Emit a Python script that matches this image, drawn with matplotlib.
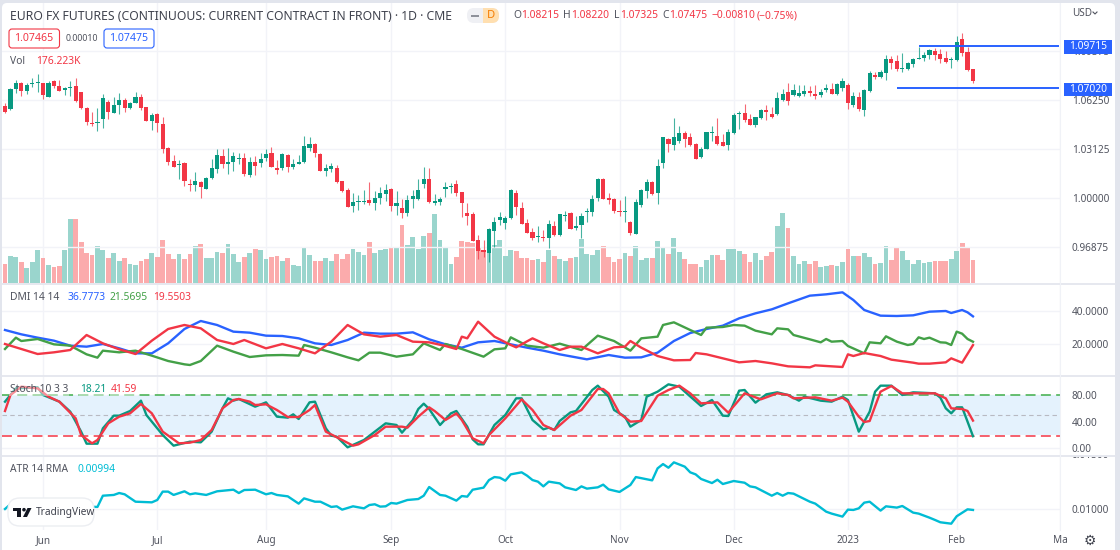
import matplotlib
matplotlib.use("Agg")
import matplotlib.pyplot as plt
from matplotlib.patches import FancyBboxPatch, Rectangle, Circle, Polygon
from matplotlib.transforms import Bbox, TransformedBbox

plt.rcParams["font.family"] = ["Noto Sans", "DejaVu Sans"]

# candles
opens = [
    1.0590, 1.0566, 1.0694, 1.0736, 1.0683, 1.0728, 1.0734, 1.0732, 1.0647, 1.0745,
    1.0715, 1.0689, 1.0700, 1.0715, 1.0675, 1.0577, 1.0479, 1.0479, 1.0505, 1.0613,
    1.0545, 1.0594, 1.0626, 1.0577, 1.0609, 1.0643, 1.0581, 1.0494, 1.0534, 1.0475,
    1.0319, 1.0234, 1.0209, 1.0226, 1.0090, 1.0081, 1.0105, 1.0060, 1.0128, 1.0188,
    1.0268, 1.0217, 1.0228, 1.0251, 1.0256, 1.0147, 1.0230, 1.0222, 1.0254, 1.0285,
    1.0194, 1.0189, 1.0274, 1.0198, 1.0217, 1.0230, 1.0317, 1.0347, 1.0279, 1.0174,
    1.0185, 1.0194, 1.0106, 1.0053, 0.9949, 0.9974, 0.9977, 0.9985, 0.9966, 1.0002,
    1.0023, 1.0059, 0.9951, 0.9934, 0.9902, 0.9994, 0.9992, 1.0087, 1.0121, 0.9966,
    0.9977, 1.0059, 1.0070, 1.0089, 1.0036, 0.9902, 0.9898, 0.9734, 0.9666, 0.9649,
    0.9789, 0.9857, 0.9843, 0.9872, 1.0032, 0.9934, 0.9838, 0.9781, 0.9749, 0.9751,
    0.9747, 0.9823, 0.9764, 0.9883, 0.9903, 0.9811, 0.9826, 0.9909, 0.9911, 1.0003,
    1.0124, 1.0000, 0.9996, 0.9917, 0.9909, 0.9845, 0.9773, 0.9956, 1.0045, 1.0103,
    1.0034, 1.0222, 1.0377, 1.0341, 1.0362, 1.0413, 1.0388, 1.0345, 1.0260, 1.0315,
    1.0413, 1.0394, 1.0356, 1.0339, 1.0415, 1.0534, 1.0543, 1.0502, 1.0466, 1.0509,
    1.0560, 1.0536, 1.0536, 1.0626, 1.0679, 1.0660, 1.0651, 1.0666, 1.0683, 1.0664,
    1.0660, 1.0687, 1.0694, 1.0664, 1.0704, 1.0721, 1.0591, 1.0647, 1.0561, 1.0683,
    1.0785, 1.0770, 1.0796, 1.0887, 1.0872, 1.0825, 1.0821, 1.0855, 1.0885, 1.0893,
    1.0912, 1.0940, 1.0921, 1.0891, 1.0878, 1.0883, 1.1015, 1.0929, 1.08215,
]
highs = [
    1.0604, 1.0700, 1.0753, 1.0743, 1.0736, 1.0764, 1.0790, 1.0736, 1.0749, 1.0753,
    1.0753, 1.0711, 1.0747, 1.0768, 1.0679, 1.0583, 1.0547, 1.0573, 1.0664, 1.0626,
    1.0647, 1.0668, 1.0636, 1.0615, 1.0675, 1.0662, 1.0583, 1.0545, 1.0541, 1.0517,
    1.0328, 1.0273, 1.0243, 1.0230, 1.0122, 1.0168, 1.0109, 1.0137, 1.0247, 1.0313,
    1.0313, 1.0319, 1.0292, 1.0290, 1.0285, 1.0260, 1.0268, 1.0285, 1.0311, 1.0324,
    1.0243, 1.0285, 1.0279, 1.0247, 1.0274, 1.0396, 1.0387, 1.0351, 1.0287, 1.0217,
    1.0221, 1.0211, 1.0111, 1.0062, 1.0034, 1.0019, 1.0051, 1.0102, 1.0045, 1.0068,
    1.0089, 1.0064, 1.0043, 0.9994, 1.0019, 1.0051, 1.0119, 1.0200, 1.0189, 1.0023,
    1.0004, 1.0100, 1.0094, 1.0115, 1.0038, 0.9970, 0.9911, 0.9764, 0.9732, 0.9811,
    0.9877, 0.9909, 0.9885, 1.0055, 1.0051, 0.9974, 0.9866, 0.9806, 0.9824, 0.9796,
    0.9860, 0.9855, 0.9898, 0.9917, 0.9911, 0.9886, 0.9907, 0.9939, 1.0017, 1.0126,
    1.0130, 1.0030, 1.0000, 0.9987, 1.0013, 0.9856, 0.9994, 1.0058, 1.0122, 1.0109,
    1.0249, 1.0388, 1.0385, 1.0509, 1.0460, 1.0428, 1.0413, 1.0349, 1.0324, 1.0422,
    1.0460, 1.0509, 1.0409, 1.0439, 1.0545, 1.0553, 1.0600, 1.0536, 1.0519, 1.0570,
    1.0592, 1.0579, 1.0675, 1.0694, 1.0732, 1.0728, 1.0721, 1.0719, 1.0717, 1.0721,
    1.0694, 1.0728, 1.0732, 1.0736, 1.0764, 1.0732, 1.0676, 1.0678, 1.0693, 1.0812,
    1.0806, 1.0817, 1.0910, 1.0906, 1.0912, 1.0927, 1.0870, 1.0891, 1.0966, 1.0934,
    1.0953, 1.0959, 1.0949, 1.0940, 1.0902, 1.1034, 1.1055, 1.0966, 1.0822,
]
lows = [
    1.0541, 1.0562, 1.0668, 1.0653, 1.0662, 1.0707, 1.0679, 1.0630, 1.0643, 1.0704,
    1.0685, 1.0656, 1.0653, 1.0615, 1.0568, 1.0466, 1.0460, 1.0426, 1.0445, 1.0507,
    1.0541, 1.0536, 1.0547, 1.0568, 1.0604, 1.0562, 1.0492, 1.0434, 1.0419, 1.0290,
    1.0211, 1.0196, 1.0120, 1.0079, 1.0047, 1.0047, 1.0000, 1.0056, 1.0124, 1.0162,
    1.0190, 1.0154, 1.0171, 1.0217, 1.0141, 1.0132, 1.0147, 1.0196, 1.0239, 1.0196,
    1.0154, 1.0179, 1.0168, 1.0183, 1.0215, 1.0225, 1.0300, 1.0264, 1.0172, 1.0140,
    1.0164, 1.0094, 1.0040, 0.9940, 0.9913, 0.9923, 0.9960, 0.9957, 0.9923, 0.9962,
    0.9981, 0.9917, 0.9891, 0.9872, 0.9885, 0.9934, 0.9987, 1.0062, 0.9966, 0.9953,
    0.9955, 1.0009, 1.0030, 1.0015, 0.9877, 0.9828, 0.9723, 0.9613, 0.9626, 0.9594,
    0.9689, 0.9828, 0.9800, 0.9866, 0.9889, 0.9834, 0.9775, 0.9732, 0.9721, 0.9723,
    0.9679, 0.9757, 0.9760, 0.9856, 0.9800, 0.9796, 0.9747, 0.9847, 0.9888, 0.9983,
    0.9992, 0.9962, 0.9903, 0.9888, 0.9845, 0.9762, 0.9771, 0.9945, 1.0003, 1.0020,
    0.9962, 1.0190, 1.0296, 1.0307, 1.0353, 1.0328, 1.0332, 1.0247, 1.0256, 1.0313,
    1.0366, 1.0341, 1.0332, 1.0305, 1.0407, 1.0439, 1.0487, 1.0466, 1.0451, 1.0505,
    1.0498, 1.0511, 1.0530, 1.0619, 1.0592, 1.0651, 1.0643, 1.0651, 1.0653, 1.0634,
    1.0647, 1.0677, 1.0662, 1.0660, 1.0685, 1.0566, 1.0583, 1.0557, 1.0525, 1.0678,
    1.0757, 1.0768, 1.0753, 1.0823, 1.0813, 1.0804, 1.0817, 1.0838, 1.0885, 1.0876,
    1.0889, 1.0881, 1.0864, 1.0864, 1.0829, 1.0876, 1.0906, 1.0813, 1.07325,
]
closes = [
    1.0551, 1.0694, 1.0732, 1.0685, 1.0719, 1.0732, 1.0738, 1.0656, 1.0736, 1.0717,
    1.0685, 1.0704, 1.0711, 1.0619, 1.0577, 1.0483, 1.0473, 1.0485, 1.0636, 1.0551,
    1.0594, 1.0626, 1.0577, 1.0604, 1.0643, 1.0577, 1.0494, 1.0532, 1.0477, 1.0313,
    1.0228, 1.0200, 1.0219, 1.0109, 1.0083, 1.0111, 1.0073, 1.0126, 1.0194, 1.0273,
    1.0217, 1.0230, 1.0268, 1.0258, 1.0151, 1.0230, 1.0205, 1.0251, 1.0281, 1.0200,
    1.0181, 1.0279, 1.0200, 1.0215, 1.0230, 1.0332, 1.0345, 1.0285, 1.0174, 1.0189,
    1.0204, 1.0100, 1.0045, 0.9945, 0.9974, 0.9981, 0.9981, 0.9970, 1.0000, 1.0032,
    1.0053, 0.9949, 0.9970, 0.9906, 0.9985, 1.0013, 1.0049, 1.0121, 0.9974, 0.9979,
    0.9992, 1.0068, 1.0074, 1.0030, 0.9966, 0.9887, 0.9723, 0.9664, 0.9653, 0.9804,
    0.9845, 0.9877, 0.9870, 1.0051, 0.9940, 0.9836, 0.9779, 0.9747, 0.9757, 0.9743,
    0.9834, 0.9764, 0.9896, 0.9890, 0.9803, 0.9822, 0.9886, 0.9915, 0.9996, 1.0122,
    0.9994, 0.9990, 0.9917, 0.9909, 0.9917, 0.9777, 0.9973, 1.0054, 1.0100, 1.0024,
    1.0202, 1.0388, 1.0347, 1.0388, 1.0413, 1.0379, 1.0341, 1.0251, 1.0315, 1.0419,
    1.0419, 1.0345, 1.0334, 1.0424, 1.0530, 1.0543, 1.0498, 1.0468, 1.0517, 1.0564,
    1.0547, 1.0517, 1.0639, 1.0664, 1.0622, 1.0689, 1.0670, 1.0683, 1.0673, 1.0651,
    1.0679, 1.0700, 1.0664, 1.0728, 1.0747, 1.0608, 1.0653, 1.0568, 1.0689, 1.0796,
    1.0772, 1.0804, 1.0885, 1.0864, 1.0825, 1.0829, 1.0864, 1.0887, 1.0893, 1.0912,
    1.0946, 1.0912, 1.0889, 1.0868, 1.0885, 1.0998, 1.0927, 1.0819, 1.07475,
]

# volume in thousands
volumes = [
    141, 202, 197, 156, 116, 156, 252, 192, 134, 118,
    129, 247, 481, 486, 307, 229, 209, 282, 252, 192,
    229, 166, 186, 141, 134, 166, 179, 229, 197, 328,
    217, 179, 217, 179, 217, 277, 292, 186, 186, 234,
    229, 292, 222, 161, 197, 229, 260, 252, 184, 197,
    204, 166, 186, 136, 129, 265, 209, 166, 166, 186,
    166, 217, 181, 217, 260, 232, 209, 307, 229, 247,
    260, 270, 270, 436, 290, 345, 260, 353, 375, 524,
    328, 270, 141, 197, 315, 307, 302, 272, 252, 272,
    285, 328, 202, 247, 239, 192, 186, 171, 184, 159,
    247, 202, 179, 166, 192, 197, 330, 222, 209, 252,
    277, 197, 161, 179, 229, 202, 282, 171, 186, 186,
    320, 272, 217, 338, 234, 179, 146, 141, 121, 171,
    209, 209, 171, 260, 255, 239, 217, 161, 229, 171,
    204, 234, 428, 532, 413, 204, 141, 166, 146, 166,
    121, 129, 134, 129, 159, 260, 204, 202, 227, 197,
    146, 154, 282, 176, 275, 244, 176, 146, 176, 154,
    159, 169, 164, 164, 184, 244, 305, 275, 176.223,
]

# DMI, bar number and value
dmi_blue_bars = [
    0, 3, 6, 9, 12, 15, 18, 21, 24, 27, 30, 33, 36, 39, 42, 45, 48, 51, 54, 57, 60, 63, 66, 69, 72,
    75, 78, 81, 84, 87, 90, 93, 96, 99, 102, 105, 107, 111, 114, 117, 120, 123, 126, 129, 132, 135,
    138, 141, 144, 148, 151, 154, 156, 158, 161, 164, 167, 170, 173, 174, 176, 177, 178,
]
dmi_blue = [
    28.6, 26.0, 24.0, 22.2, 19.2, 18.6, 20.2, 17.6, 14.6, 14.6, 20.6, 29.2, 34.0, 31.6, 27.6, 27.0,
    25.2, 25.0, 23.6, 20.6, 19.6, 22.6, 27.0, 26.4, 26.4,
    27.2, 23.0, 20.0, 18.0, 21.2, 22.0, 20.0, 18.0, 16.2, 14.0, 12.2, 11.0, 13.6, 12.0, 12.2, 15.0,
    22.0, 26.8, 29.2, 31.2, 35.6, 38.6, 41.0, 44.6, 49.2, 50.0, 51.2, 46.6, 40.6, 37.2, 37.0, 37.4,
    39.6, 40.0, 38.8, 40.6, 39.2, 36.7773,
]
dmi_green_bars = [
    0, 2, 3, 6, 9, 12, 15, 17, 18, 21, 24, 27, 30, 33, 34, 36, 39, 42, 45, 48, 51, 54, 55, 57, 60,
    63, 65, 67, 69, 72, 75, 77, 80, 81, 84, 88, 90, 92, 93, 96, 99, 102, 106, 109, 112, 115, 117,
    120, 121, 123, 126, 128, 129, 132, 134, 136, 138, 141, 142, 144, 145, 148, 150, 151, 152, 154,
    155, 158, 159, 161, 162, 164, 166, 167, 168, 169, 170, 172, 173, 174, 175, 176, 177, 178,
]
dmi_green = [
    17.2, 24.0, 22.0, 23.2, 20.0, 19.2, 14.0, 12.0, 16.2, 15.2, 16.2, 13.2, 10.0, 8.0, 7.6, 10.0,
    19.2, 15.6, 12.4, 13.4, 13.6, 13.2, 19.6, 18.0, 15.2, 12.2, 10.4, 15.0, 15.0, 12.6,
    14.0, 20.6, 16.6, 20.2, 17.2, 12.6, 17.0, 17.6, 24.2, 19.2, 18.0, 20.4, 16.6, 25.2, 22.0, 16.2,
    23.6, 24.6, 31.6, 33.2, 28.6, 25.6, 30.0, 30.4, 31.6, 31.2, 28.2, 26.0, 29.6,
    29.0, 25.6, 23.0, 21.2, 23.2, 21.6, 22.0, 19.0, 14.6, 21.2, 20.6, 24.8, 21.6, 19.6, 20.2, 24.2,
    23.2, 24.0, 21.2, 21.0, 19.6, 27.6, 26.4, 23.2, 21.5695,
]
dmi_red_bars = [
    0, 3, 6, 9, 12, 15, 18, 21, 24, 27, 30, 33, 36, 39, 42, 44, 48, 51, 54, 57, 60, 63, 66, 69, 72,
    75, 78, 81, 83, 84, 85, 87, 90, 93, 94, 97, 99, 102, 104, 106, 109, 112, 114, 115, 117, 120,
    123, 126, 127, 129, 132, 135, 138, 141, 144, 148, 149, 154, 155, 156, 158, 161, 163, 167, 168,
    170, 173, 174, 176, 178,
]
dmi_red = [
    20.2, 17.2, 14.2, 15.2, 16.6, 25.6, 20.6, 17.0, 14.2, 22.2, 29.2, 31.6, 29.6, 22.6, 20.2, 22.6,
    17.6, 20.2, 17.6, 14.6, 21.6, 31.6, 26.0, 24.6, 25.6,
    21.6, 21.2, 19.0, 17.2, 24.6, 23.6, 33.6, 24.6, 19.6, 18.2, 23.6, 20.6, 16.6, 18.6, 18.6, 14.6,
    18.2, 18.6, 22.0, 18.0, 13.0, 10.4, 10.6, 14.8, 14.0, 11.6, 9.2, 10.0, 8.6, 6.8,
    6.2, 7.4, 6.4, 14.0, 13.0, 14.8, 13.0, 10.8, 9.0, 8.4, 8.4, 9.2, 11.6, 9.0, 19.5503,
]

# stochastic
stoch_k_bars = [
    0, 1, 2, 6, 7, 10, 12, 14, 15, 17, 18, 20, 21, 23, 25, 26, 29, 31, 34, 36, 38, 40, 41, 42, 43,
    46, 48, 50, 52, 53, 54, 56, 57, 59, 60, 61, 63, 66, 68, 70, 72,
    73, 75, 76, 77, 78, 80, 82, 83, 85, 86, 87, 88, 90, 92, 94, 95, 97, 99, 100, 101, 102, 104, 105,
    108, 109, 111, 112, 114, 115, 117, 118, 120, 122, 124, 125, 128, 130, 132, 133, 135, 136, 138,
    140, 142, 144, 146, 147, 150, 152, 154, 155, 157, 159, 160, 161, 163, 165, 167, 171, 172, 173,
    174, 175, 176, 177, 178,
]
stoch_k = [
    70, 80, 90, 91.5, 80, 70, 55, 25, 7, 7, 30, 49, 49, 56, 71.5, 50, 20, 4, 10, 9, 25, 60, 75, 71.5, 74,
    62.5, 69, 47.5, 46, 51, 44, 69, 70, 30, 19, 17.5, 1.5, 12.5, 25, 37.5, 35,
    23.5, 42.5, 59, 67, 59, 35, 52.5, 56, 32.5, 13.5, 6, 6, 35, 50, 75, 75, 42.5, 28.5, 31, 27.5, 41, 54, 56,
    87.5, 94, 77.5, 57.5, 47.5, 32.5, 42.5, 77.5, 85, 96, 92.5, 85, 63.5, 72.5, 49, 48.5, 86.5, 87.5, 68.5,
    81, 84, 80, 71.5, 77.5, 71.5, 70, 77.5, 72.5, 25, 55, 85, 94, 94, 80, 84, 82.5, 76, 60,
    52.5, 61.5, 61.5, 40, 18.21,
]
stoch_d_bars = [
    0, 1, 3, 6, 8, 10, 13, 14, 16, 17, 19, 21, 23, 25, 27, 29, 32, 34, 36, 38, 40, 42, 43, 45, 46,
    48, 50, 52, 54, 56, 57, 59, 62, 64, 65, 68, 70,
    73, 74, 76, 78, 79, 81, 83, 84, 86, 88, 89, 92, 95, 97, 99, 101, 104, 106, 109, 110, 111, 113,
    115, 117, 120, 122, 124, 126, 128, 131, 133, 136, 139,
    142, 144, 145, 149, 152, 154, 155, 157, 158, 159, 161, 163, 165, 167, 171, 173, 174, 176, 177, 178,
]
stoch_d = [
    56, 80, 92.5, 90, 77.5, 70, 45, 20, 7.5, 12.5, 37.5, 47.5, 52.5, 66.5, 52.5, 25, 7.5, 8.5, 12.5,
    27.5, 60, 72.5, 74, 70, 65, 66, 57.5, 47, 47, 57.5, 65, 25, 12.5, 4, 6, 20, 32.5,
    32.5, 31, 47.5, 61.5, 56, 42.5, 52.5, 42.5, 15, 7.5, 20, 45, 73.5, 57.5, 35, 27.5, 49, 57.5, 89, 89, 82.5, 52.5,
    40, 41, 79, 87.5, 94, 82.5, 67.5, 69, 53.5, 82.5, 73.5,
    82.5, 80, 75, 76.5, 71.5, 76, 70, 47.5, 39.5, 41, 85, 93.5, 82.5, 82.5, 82.5, 75, 60, 59, 56, 41.59,
]

# ATR
atr_bars = [
    0, 1, 17, 18, 20, 21, 22, 24, 27, 28, 29, 30, 31, 33, 34, 35, 37, 39, 42, 43, 44, 46, 48, 49, 50,
    52, 54, 55, 57, 58, 60, 61, 62, 64, 66, 67, 68, 69, 70, 71, 72, 74, 76, 77, 78, 80, 81, 83, 84,
    85, 86, 88, 89, 90, 91, 92, 93, 95, 96, 97, 98, 99, 100, 102,
    103, 105, 106, 107, 109, 110, 111, 113, 115, 116, 119, 120, 121, 122, 123, 125, 126, 127, 128,
    130, 131, 132, 134, 136, 137, 138, 141, 142, 143, 144, 145, 148, 149, 151, 152, 154, 155, 156,
    157, 158, 159, 161, 162, 164, 165, 167, 168, 170, 171, 172, 174, 175, 177, 178,
]
atr_values = [
    0.01003, 0.01047, 0.01022, 0.01127, 0.01134, 0.01152, 0.01140, 0.01071, 0.01065, 0.01087, 0.01165,
    0.01165, 0.01134, 0.01168, 0.01140, 0.01149, 0.01134, 0.01168, 0.01183, 0.01152, 0.01180, 0.01183,
    0.01140, 0.01152, 0.01134, 0.01121, 0.01053, 0.01102, 0.01071, 0.01071, 0.01022, 0.01028, 0.00997,
    0.01028, 0.01009, 0.01040, 0.01047, 0.01025, 0.01028, 0.01059, 0.01053, 0.01087, 0.01096, 0.01127,
    0.01208, 0.01134, 0.01127, 0.01081, 0.01124, 0.01118, 0.01183, 0.01202, 0.01273, 0.01301, 0.01295,
    0.01267, 0.01326, 0.01345, 0.01314, 0.01273, 0.01258, 0.01214, 0.01258, 0.01242,
    0.01205, 0.01180, 0.01214, 0.01193, 0.01205, 0.01230, 0.01186, 0.01162, 0.01227, 0.01301, 0.01270,
    0.01382, 0.01422, 0.01388, 0.01438, 0.01398, 0.01345, 0.01326, 0.01283, 0.01245, 0.01276, 0.01236,
    0.01264, 0.01248, 0.01214, 0.01205, 0.01127, 0.01152, 0.01127, 0.01152, 0.01146, 0.01071, 0.01053,
    0.00978, 0.00960, 0.00932, 0.00997, 0.00994, 0.01009, 0.01062, 0.01071, 0.00988, 0.01028, 0.01016,
    0.01031, 0.00969, 0.00960, 0.00922, 0.00901, 0.00879, 0.00866, 0.00935, 0.01000, 0.00994,
]

month_bars = [7, 28, 48, 71, 92, 113, 134, 155, 175, 194]
month_labels = ["Jun", "Jul", "Aug", "Sep", "Oct", "Nov", "Dec", "2023", "Feb", "Ma"]
price_ticks = [0.96875, 1.0, 1.03125, 1.0625, 1.09375]
level_high = 1.09715
level_low = 1.0702
level_high_start = 168
level_low_start = 164

UP = "#089981"
DOWN = "#f23645"
UP_VOL = "#9ad5cd"
DOWN_VOL = "#fbabac"
GRID = "#f2f3f8"
SEP = "#e4e6ee"
TEXT = "#50535e"
BLUE = "#2962ff"
GREEN = "#43a047"
W, H = 1120, 550
LEFT, RIGHT = 2, 1060
XLIM = ((LEFT - 5) / 5.442, (RIGHT - 5) / 5.442)


def pane(top, bottom):
    ax = fig.add_axes([LEFT / W, 1 - bottom / H, (RIGHT - LEFT) / W, (bottom - top) / H])
    ax.patch.set_visible(False)
    for spine in ax.spines.values():
        spine.set_visible(False)
    ax.set_xlim(*XLIM)
    ax.set_xticks(month_bars)
    ax.set_xticklabels([])
    ax.yaxis.tick_right()
    ax.tick_params(length=0, labelsize=7.2, labelcolor=TEXT, pad=8.5)
    ax.grid(True, color=GRID, lw=1)
    ax.set_axisbelow(True)
    return ax


fig = plt.figure(figsize=(W / 100, H / 100), dpi=100, facecolor="#e2e5ed")

# white chart card
bg = fig.add_axes([0, 0, 1, 1], zorder=-5)
bg.set_xlim(0, W)
bg.set_ylim(H, 0)
bg.axis("off")
bg.add_patch(FancyBboxPatch((2, 3), 1113, 560, boxstyle="round,pad=0,rounding_size=5",
                            fc="white", ec="none"))

# volume sits under the candles
ax_vol = pane(3, 283)
ax_vol.set_ylim(0, 2117)
ax_vol.set_yticks([])
vol_colors = [UP_VOL if c >= o else DOWN_VOL for o, c in zip(opens, closes)]
ax_vol.bar(range(len(volumes)), volumes, width=0.88, color=vol_colors, zorder=2)

ax = pane(3, 283)
ax.grid(False)
ax.xaxis.grid(False)
ax.set_ylim(0.94577, 1.12441)
ax.set_yticks(price_ticks)
ax.set_yticklabels(["%.5f" % p for p in price_ticks])
ax.yaxis.grid(True, color=GRID, lw=1)
for i in range(len(opens)):
    col = UP if closes[i] >= opens[i] else DOWN
    ax.vlines(i, lows[i], highs[i], color=col, lw=0.8, alpha=0.75, zorder=3)
    ax.bar(i, abs(closes[i] - opens[i]), bottom=min(opens[i], closes[i]), width=0.76,
           color=col, zorder=4)
ax.hlines(level_high, level_high_start, XLIM[1], color=BLUE, lw=1.4, zorder=5)
ax.hlines(level_low, level_low_start, XLIM[1], color=BLUE, lw=1.4, zorder=5)

ax_dmi = pane(285, 376)
ax_dmi.set_ylim(1.0, 55.6)
ax_dmi.set_yticks([20, 40])
ax_dmi.set_yticklabels(["20.0000", "40.0000"])
ax_dmi.plot(dmi_blue_bars, dmi_blue, color=BLUE, lw=1.7)
ax_dmi.plot(dmi_green_bars, dmi_green, color=GREEN, lw=1.7)
ax_dmi.plot(dmi_red_bars, dmi_red, color=DOWN, lw=1.7)

ax_st = pane(377, 455)
ax_st.set_ylim(-10, 107)
ax_st.set_yticks([0, 40, 80])
ax_st.set_yticklabels(["0.00", "40.00", "80.00"])
ax_st.axhspan(20, 80, color="#e4f2fd", lw=0, zorder=1)
ax_st.axhline(80, color="#3fae49", lw=1.1, dashes=(6.5, 3.5), zorder=2)
ax_st.axhline(19.2, color=DOWN, lw=1.1, dashes=(6.5, 3.5), zorder=2)
ax_st.axhline(50, color="#b8bac2", lw=0.8, dashes=(4, 3), zorder=2)
ax_st.plot(stoch_k_bars, stoch_k, color=UP, lw=1.7, zorder=3)
ax_st.plot(stoch_d_bars, stoch_d, color=DOWN, lw=1.7, zorder=4)

ax_atr = pane(457, 530)
ax_atr.set_ylim(0.00807, 0.01488)
ax_atr.set_yticks([0.01])
ax_atr.set_yticklabels(["0.01000"])
ax_atr.plot(atr_bars, atr_values, color="#00bcd4", lw=1.7)
ax_atr.set_xticklabels(month_labels)
ax_atr.tick_params(axis="x", pad=3.6, labelsize=7.2)
for tick in ax_atr.get_xticklabels():
    if tick.get_text() == "2023":
        tick.set_fontweight("bold")

# everything that is page furniture, placed in pixels
top = fig.add_axes([0, 0, 1, 1], zorder=10)
top.set_xlim(0, W)
top.set_ylim(H, 0)
top.axis("off")


def label(x, y, s, color=TEXT, size=7.4, ha="left", **kw):
    return top.text(x, y, s, color=color, fontsize=size, ha=ha, va="center", **kw)


# pane separators and price scale edge
for y0 in (283.5, 376, 455.5):
    top.plot([LEFT, 1115], [y0, y0], color=SEP, lw=1.3)
top.plot([RIGHT, RIGHT], [3, 530], color="#f0f2f7", lw=0.8)

label(10, 16, "EURO FX FUTURES (CONTINUOUS: CURRENT CONTRACT IN FRONT) · 1D · CME", "#3f424d", 8.8)

# interval badge
top.add_patch(FancyBboxPatch((467, 8), 32, 15, boxstyle="round,pad=0,rounding_size=7", fc="#eff0f4", ec="none"))
top.add_patch(FancyBboxPatch((483, 8), 16, 15, boxstyle="round,pad=0,rounding_size=7", fc="#ffdfb0", ec="none"))
top.add_patch(Rectangle((483, 8), 6, 15, fc="#ffdfb0", ec="none"))
top.add_patch(Rectangle((471, 14.5), 8, 2.4, fc="#8e919a", ec="none"))
label(491, 15.5, "D", "#f57c00", 8, ha="center")

# OHLC readout
for x0, s, col in [(513, "O", TEXT), (521.5, "1.08215", DOWN), (563, "H", TEXT), (571, "1.08220", DOWN),
                   (614, "L", TEXT), (620, "1.07325", DOWN), (662, "C", TEXT), (669, "1.07475", DOWN),
                   (712, "−0.00810", DOWN), (757, "(−0.75%)", DOWN)]:
    label(x0, 16, s, col, 7.4)

# bid / ask boxes
top.add_patch(FancyBboxPatch((9, 29), 50.5, 19, boxstyle="round,pad=0,rounding_size=3", fc="white", ec=DOWN, lw=0.8))
label(34, 38.5, "1.07465", DOWN, 7.6, ha="center")
label(82, 38.5, "0.00010", TEXT, 6.4, ha="center")
top.add_patch(FancyBboxPatch((104, 29), 50, 19, boxstyle="round,pad=0,rounding_size=3", fc="white", ec=BLUE, lw=0.8))
label(129, 38.5, "1.07475", BLUE, 7.6, ha="center")

# indicator captions
label(10, 62, "Vol", TEXT, 7.4)
label(36, 62, "176.223K", DOWN, 7.4)
label(10, 297, "DMI 14 14", TEXT, 7.4)
label(68, 297, "36.7773", BLUE, 7.4)
label(110, 297, "21.5695", GREEN, 7.4)
label(153, 297, "19.5503", DOWN, 7.4)
box = dict(fc="white", ec="none", alpha=0.45, pad=0.5)
label(10, 390, "Stoch 10 3 3", TEXT, 7.4, bbox=box)
label(80, 390, "18.21", UP, 7.4, bbox=box)
label(111, 390, "41.59", DOWN, 7.4, bbox=box)
label(10, 469, "ATR 14 RMA", TEXT, 7.4)
label(77, 469, "0.00994", "#00bcd4", 7.4)

# half hidden ATR scale label
cut = label(1072, 456, "0.01500", TEXT, 7.2)
cut.set_clip_box(TransformedBbox(Bbox([[1060, 456.5], [1120, 470]]), top.transData))
cut.set_clip_on(True)

# level tags on the price scale
for y0, s in [(46.5, "1.09715"), (89, "1.07020")]:
    top.add_patch(Rectangle((1064, y0 - 6.5), 48, 13.5, fc=BLUE, ec="none"))
    label(1088, y0 + 0.3, s, "white", 7.4, ha="center", fontweight="bold")

# currency
label(1072, 13, "USD", TEXT, 7.2)
top.plot([1093, 1095, 1097], [12, 14, 12], color=TEXT, lw=0.8)

# watermark
top.add_patch(FancyBboxPatch((8, 498), 86, 28, boxstyle="round,pad=0,rounding_size=12", fc="white", ec="#eceef2", lw=1))
top.add_patch(Rectangle((13, 508), 8, 3, fc="#131722", ec="none"))
top.add_patch(Rectangle((17, 508), 4, 9, fc="#131722", ec="none"))
top.add_patch(Circle((24, 509.7), 1.8, fc="#131722", ec="none"))
top.add_patch(Polygon([(27.5, 508), (31.5, 508), (27, 517), (23, 517)], fc="#131722", ec="none"))
label(36, 513, "TradingView", "#3f424d", 7.3)

# settings gear
label(1090, 541, "⚙", "#3f424d", 10, ha="center", family="DejaVu Sans")

fig.savefig("out.png", dpi=100, facecolor=fig.get_facecolor())
